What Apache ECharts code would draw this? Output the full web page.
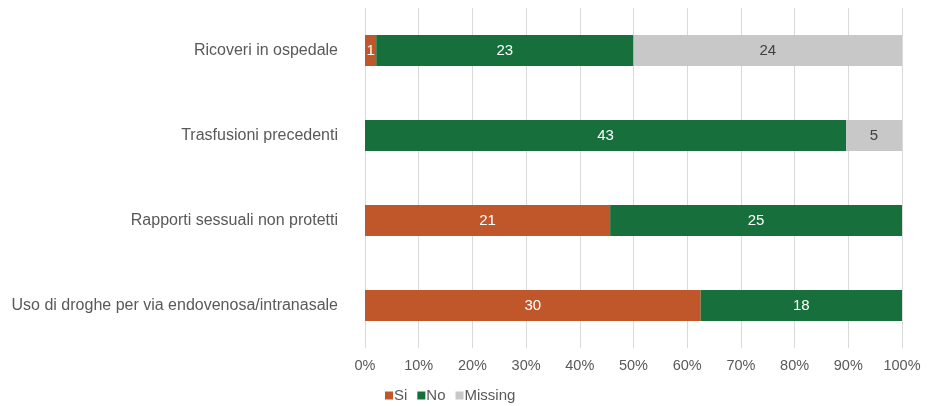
<!DOCTYPE html>
<html lang="it">
<head>
    <meta charset="UTF-8">
    <title>Fattori di rischio</title>
</head>
<body style="margin: 0">
<div id="container" style="height: 406px; width: 928px;"></div>
<script type="text/javascript" src="https://cdn.jsdelivr.net/npm/echarts@6/dist/echarts.min.js"></script>
<script type="text/javascript">
    const categories = [
        'Uso di droghe per via endovenosa/intranasale',
        'Rapporti sessuali non protetti',
        'Trasfusioni precedenti',
        'Ricoveri in ospedale'
    ];
    const si = [30, 21, 0, 1];
    const no = [18, 25, 43, 23];
    const missing = [0, 0, 5, 24];
    const xTicks = ['0%', '10%', '20%', '30%', '40%', '50%', '60%', '70%', '80%', '90%', '100%'];

    const totals = categories.map((c, i) => si[i] + no[i] + missing[i]);

    function toPct(arr) {
        return arr.map((v, i) => ({value: v / totals[i] * 100, count: v}));
    }

    const font = 'Liberation Sans, Arial, sans-serif';
    const dom = document.getElementById('container');
    const myChart = echarts.init(dom, null, {renderer: 'canvas'});

    function makeSeries(name, arr, color, labelColor) {
        return {
            name: name,
            type: 'bar',
            stack: 'total',
            barWidth: 31,
            data: toPct(arr),
            itemStyle: {color: color},
            label: {
                show: true,
                position: 'inside',
                color: labelColor,
                fontSize: 15,
                fontFamily: font,
                formatter: function (p) {
                    return p.data.count ? String(p.data.count) : '';
                }
            }
        };
    }

    const option = {
        animation: false,
        grid: {left: 365, right: 26, top: 8, bottom: 58},
        legend: {
            top: 383,
            left: 380,
            itemWidth: 8,
            itemHeight: 8,
            itemGap: 10,
            icon: 'rect',
            textStyle: {
                color: '#595959',
                fontSize: 15,
                padding: [0, 0, 0, -4],
                fontFamily: font
            },
            data: ['Si', 'No', 'Missing']
        },
        xAxis: {
            type: 'value',
            min: 0,
            max: 100,
            interval: 10,
            axisLine: {show: false},
            axisTick: {show: false},
            splitLine: {lineStyle: {color: '#d9d9d9'}},
            axisLabel: {
                color: '#595959',
                fontSize: 14.5,
                margin: 10,
                fontFamily: font,
                formatter: function (v) {
                    return xTicks[Math.round(v / 10)];
                }
            }
        },
        yAxis: {
            type: 'category',
            data: categories,
            axisLine: {show: false},
            axisTick: {show: false},
            axisLabel: {
                color: '#595959',
                fontSize: 16,
                margin: 27,
                fontFamily: font
            }
        },
        series: [
            makeSeries('Si', si, '#c0572a', '#ffffff'),
            makeSeries('No', no, '#17703c', '#ffffff'),
            makeSeries('Missing', missing, '#c8c8c8', '#404040')
        ]
    };
    myChart.setOption(option);
</script>
</body>
</html>
